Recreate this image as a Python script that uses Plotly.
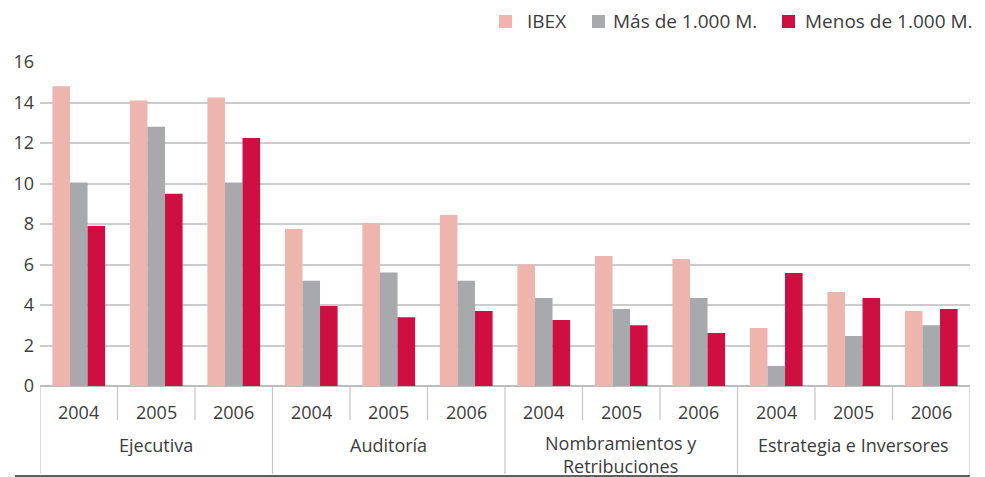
import plotly.graph_objects as go

groups = ["Ejecutiva", "Auditoría", "Nombramientos y<br>Retribuciones", "Estrategia e Inversores"]
years = ["2004", "2005", "2006"]
ibex = [14.8, 14.1, 14.25, 7.75, 8.05, 8.45, 6.0, 6.42, 6.27, 2.86, 4.64, 3.7]
mas = [10.05, 12.8, 10.05, 5.2, 5.6, 5.2, 4.35, 3.8, 4.35, 0.99, 2.47, 3.0]
menos = [7.9, 9.5, 12.25, 3.95, 3.4, 3.7, 3.26, 3.0, 2.62, 5.58, 4.35, 3.8]
series_names = ["IBEX", "Más de 1.000 M.", "Menos de 1.000 M."]
colors = ["#EEB5AF", "#A8A9AD", "#CE0F41"]

keys = [f"{g}|{y}" for g in groups for y in years]

OFF = 8  # page body margin
W, H = 985 - OFF, 477 - OFF
ML, MT = 40 - OFF, 62 - OFF
MR = W - (970 - OFF)
MB = H - (386 - OFF)
PH = H - MT - MB
PW = W - ML - MR

def py(pix):  # page pixel y -> paper y
    return (H - MB - (pix - OFF)) / PH

def px(pix):  # page pixel x -> paper x
    return (pix - OFF - ML) / PW

font = "Open Sans, sans-serif"
txt = "#3c3c3c"

fig = go.Figure()
for name, vals, c in zip(series_names, [ibex, mas, menos], colors):
    fig.add_trace(go.Bar(x=keys, y=vals, name=name, marker=dict(color=c, line=dict(width=0))))

fig.update_layout(
    width=W, height=H,
    margin=dict(l=ML, r=MR, t=MT, b=MB, autoexpand=False),
    plot_bgcolor="white", paper_bgcolor="white",
    barmode="group", bargap=0.32, bargroupgap=0,
    font=dict(family=font, size=18, color=txt),
    showlegend=False,
    yaxis=dict(range=[0, 16], dtick=2, showgrid=True, gridcolor="#CCCCCC", gridwidth=1.5,
               zeroline=True, zerolinecolor="#BDBDBD", zerolinewidth=2, ticklabelstandoff=5,
               tickfont=dict(size=18, color=txt), ticks="", fixedrange=True),
    xaxis=dict(type="category", range=[-0.5, len(keys) - 0.5], showticklabels=False,
               showline=False, ticks="", showgrid=False),
)

shapes = []
annotations = []
# legend (drawn as swatches + labels)
legend_sw_x = [499, 592, 782]
legend_tx_x = [526, 612, 804]
LY = 21
for name, c, sx, tx in zip(series_names, colors, legend_sw_x, legend_tx_x):
    shapes.append(dict(type="rect", xref="paper", yref="paper", x0=px(sx), x1=px(sx + 13),
                       y0=py(LY - 6), y1=py(LY + 7), fillcolor=c, line=dict(width=0)))
    annotations.append(dict(x=px(tx), xref="paper", y=py(LY), yref="paper", text=name,
                            showarrow=False, xanchor="left", yanchor="middle", borderpad=0,
                            font=dict(size=19, color=txt)))
for i, k in enumerate(keys):
    g, y = k.split("|")
    annotations.append(dict(x=k, xref="x", y=py(412), yref="paper", text=y, showarrow=False,
                            xanchor="center", yanchor="middle", font=dict(size=18, color=txt)))
for gi, g in enumerate(groups):
    center = gi * len(years) + (len(years) - 1) / 2
    n = len(g.split("<br>"))
    annotations.append(dict(x=center, xref="x", y=py(445 + (n - 1) * 9), yref="paper", text=g,
                            showarrow=False, xanchor="center", yanchor="middle",
                            font=dict(size=18, color=txt)))
for b in range(len(keys) + 1):
    xpos = b - 0.5
    is_group = b % len(years) == 0
    shapes.append(dict(type="line", xref="x", yref="paper", x0=xpos, x1=xpos,
                       y0=py(387), y1=py(474 if is_group else 420),
                       line=dict(color="#C4C4C4", width=1.2)))
shapes.append(dict(type="line", xref="paper", yref="paper", x0=px(15), x1=1.0,
                   y0=py(476), y1=py(476), line=dict(color="#2a2a2a", width=1.5)))
fig.update_layout(shapes=shapes, annotations=annotations)
fig.write_html("out.html")
